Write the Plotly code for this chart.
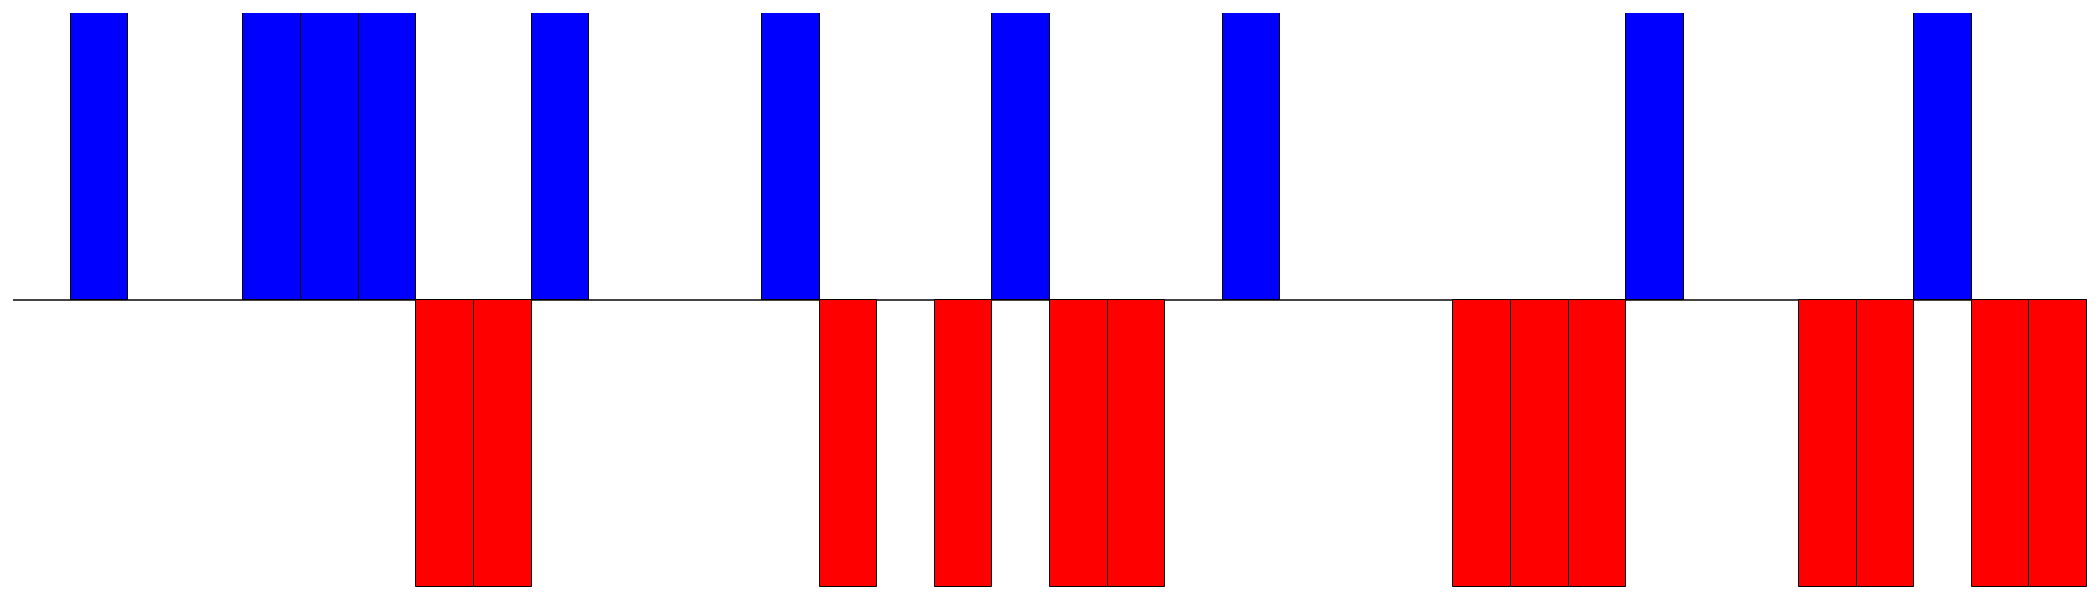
import plotly.graph_objects as go

positions = list(range(36))
values = [0, 1, 0, 0, 1, 1, 1, -1, -1, 1, 0, 0, 0, 1, -1, 0, -1, 1,
          -1, -1, 0, 1, 0, 0, 0, -1, -1, -1, 1, 0, 0, -1, -1, 1, -1, -1]

pos_color = "#0000ff"
neg_color = "#ff0000"

xs = [p for p, v in zip(positions, values) if v != 0]
ys = [v for v in values if v != 0]
colors = [pos_color if v > 0 else neg_color for v in ys]

fig = go.Figure(go.Bar(
    x=xs, y=ys, width=1,
    marker=dict(color=colors, line=dict(color="black", width=1)),
))
fig.update_layout(
    template="none",
    width=2100, height=600,
    margin=dict(l=5, r=21, t=5, b=21),
    plot_bgcolor="white", paper_bgcolor="white",
    showlegend=False, bargap=0,
)
fig.update_xaxes(range=[-0.5, 35.5], showgrid=False, showticklabels=False,
                 zeroline=False, showline=False, ticks="")
fig.update_yaxes(range=[-1, 1], showgrid=False, showticklabels=False,
                 zeroline=True, zerolinecolor="#444444", zerolinewidth=1.5,
                 showline=False, ticks="")
fig.write_html("out.html")
